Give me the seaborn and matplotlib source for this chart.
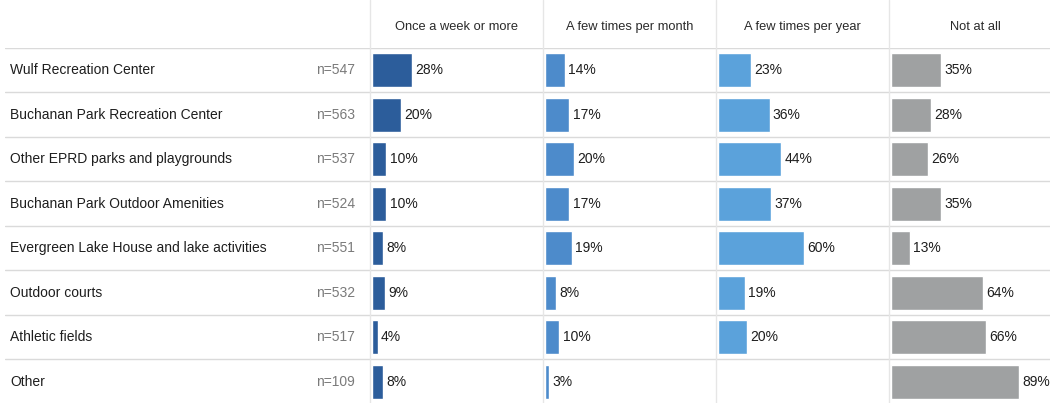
import matplotlib.pyplot as plt
import seaborn as sns
import pandas as pd
import numpy as np

# data
places = ['Wulf Recreation Center', 'Buchanan Park Recreation Center',
          'Other EPRD parks and playgrounds', 'Buchanan Park Outdoor Amenities',
          'Evergreen Lake House and lake activities', 'Outdoor courts',
          'Athletic fields', 'Other']
n_values = [547, 563, 537, 524, 551, 532, 517, 109]
frequencies = ['Once a week or more', 'A few times per month',
               'A few times per year', 'Not at all']
weekly = [28, 20, 10, 10, 8, 9, 4, 8]
monthly = [14, 17, 20, 17, 19, 8, 10, 3]
yearly = [23, 36, 44, 37, 60, 19, 20, np.nan]
not_at_all = [35, 28, 26, 35, 13, 64, 66, 89]
colors = ['#2C5D9B', '#4D8BCB', '#5BA2DB', '#9FA1A2']

sns.set_theme(style='white')
plt.rcParams['font.family'] = ['Liberation Sans', 'DejaVu Sans']

W, H = 1050, 403
fig = plt.figure(figsize=(W / 100, H / 100), dpi=100)

top_px, bottom_px = 48, 404
line_col = '#DADADA'
px_per_pct = 1.437


def fx(px):
    return px / W


ax_bottom = 1 - bottom_px / H
ax_height = (bottom_px - top_px) / H

# label column
ax_lab = fig.add_axes([fx(5), ax_bottom, fx(365), ax_height])
ax_lab.set_xlim(0, 365)
ax_lab.set_ylim(len(places) - 0.5, -0.5)
ax_lab.axis('off')
for i, (p, n) in enumerate(zip(places, n_values)):
    ax_lab.text(5, i, p, va='center', ha='left', fontsize=10, color='#1E1E1E')
    ax_lab.text(350, i, f'n={n}', va='center', ha='right', fontsize=10, color='#7A7A7A')
for k in range(len(places)):
    ax_lab.axhline(k - 0.5, color=line_col, lw=1)

series = [weekly, monthly, yearly, not_at_all]
panel_w = 173
for j, (name, vals, col) in enumerate(zip(frequencies, series, colors)):
    left_px = 370 + panel_w * j
    ax = fig.add_axes([fx(left_px), ax_bottom, fx(panel_w), ax_height])
    df = pd.DataFrame({'place': places, 'pct': vals})
    sns.barplot(data=df, y='place', x='pct', color=col, width=0.76,
                saturation=1, ax=ax, orient='h')
    x0 = -2 / px_per_pct
    ax.set_xlim(x0, x0 + panel_w / px_per_pct)
    ax.set_ylim(len(places) - 0.5, -0.5)
    ax.axis('off')
    for k in range(len(places)):
        ax.axhline(k - 0.5, color=line_col, lw=1)
    for i, v in enumerate(vals):
        if not np.isnan(v):
            ax.text(v + 2.2, i, f'{v:.0f}%', va='center', ha='left',
                    fontsize=10, color='#1E1E1E')
    # vertical separator
    fig.add_artist(plt.Line2D([fx(left_px), fx(left_px)], [0, 1],
                              color='#E6E6E6', lw=1))
    fig.text(fx(left_px + panel_w / 2), 1 - 27 / H, name, ha='center',
             va='center', fontsize=9.3, color='#2A2A2A')

fig.savefig('out.png', dpi=100)
